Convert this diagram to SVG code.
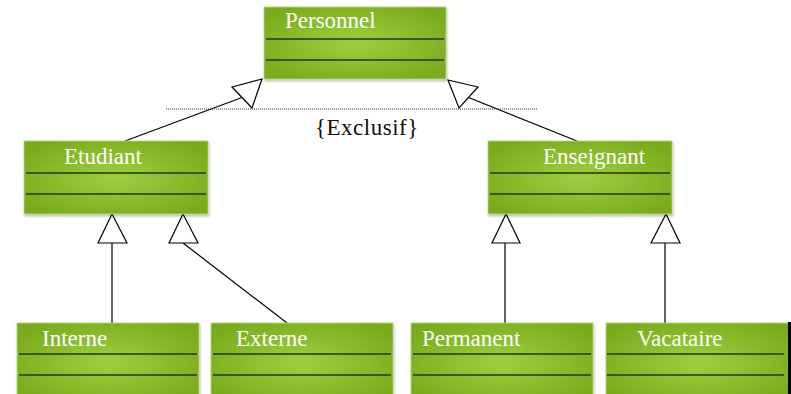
<svg xmlns="http://www.w3.org/2000/svg" width="791" height="394" viewBox="0 0 791 394">
  <defs>
    <radialGradient id="boxFill" cx="50%" cy="50%" r="60%">
      <stop offset="0" stop-color="#9dd040"/>
      <stop offset="1" stop-color="#7aab1c"/>
    </radialGradient>
    <filter id="shadow" x="-10%" y="-10%" width="125%" height="130%">
      <feDropShadow dx="1" dy="2" stdDeviation="1.2" flood-color="#000" flood-opacity="0.25"/>
    </filter>
  </defs>
  <style>
    .box { fill: url(#boxFill); stroke: #b2d67a; stroke-width: 0.8; filter: url(#shadow); }
    .sep { stroke: #24330f; stroke-width: 1.6; }
    .name { font-family: "Liberation Serif", "Times New Roman", serif; font-size: 23px; fill: #ffffff; }
    .note { font-family: "Liberation Serif", "Times New Roman", serif; font-size: 23px; fill: #111111; letter-spacing: 0.5px; }
    .link { stroke: #000; stroke-width: 1.2; fill: none; }
    .head { stroke: #000; stroke-width: 1.2; fill: #fff; }
    .dots { stroke: #333; stroke-width: 1; stroke-dasharray: 1 1; }
  </style>

  <rect x="0" y="0" width="791" height="394" fill="#fff"/>

  <!-- generalisation connectors -->
  <g id="connectors">
    <line class="link" x1="242" y1="97.5" x2="125" y2="141"/>
    <polygon class="head" points="262,79 232,87 252,108"/>
    <line class="link" x1="468.5" y1="97.5" x2="577" y2="141"/>
    <polygon class="head" points="448,80 478,87 459,108"/>
    <line class="dots" x1="166" y1="109" x2="537" y2="109"/>

    <line class="link" x1="112" y1="243" x2="112" y2="323"/>
    <polygon class="head" points="112,214 98,243 127,243"/>
    <line class="link" x1="183" y1="243" x2="287" y2="323"/>
    <polygon class="head" points="183,214 169,243 198,243"/>

    <line class="link" x1="505" y1="243" x2="505" y2="323"/>
    <polygon class="head" points="506,214 492,243 520,243"/>
    <line class="link" x1="665" y1="243" x2="665" y2="323"/>
    <polygon class="head" points="666,214 651,243 680,243"/>
  </g>

  <text class="note" x="315" y="135">{Exclusif}</text>

  <g id="personnel">
    <rect class="box" x="264" y="7" width="182" height="72"/>
    <line class="sep" x1="266" y1="39" x2="444" y2="39"/>
    <line class="sep" x1="266" y1="60" x2="444" y2="60"/>
    <text class="name" x="285" y="28">Personnel</text>
  </g>

  <g id="etudiant">
    <rect class="box" x="24" y="141" width="184" height="73"/>
    <line class="sep" x1="26" y1="173" x2="206" y2="173"/>
    <line class="sep" x1="26" y1="194" x2="206" y2="194"/>
    <text class="name" x="64" y="164">Etudiant</text>
  </g>

  <g id="enseignant">
    <rect class="box" x="488" y="141" width="184" height="73"/>
    <line class="sep" x1="490" y1="173" x2="670" y2="173"/>
    <line class="sep" x1="490" y1="194" x2="670" y2="194"/>
    <text class="name" x="543" y="164">Enseignant</text>
  </g>

  <g id="interne">
    <rect class="box" x="17" y="323" width="182" height="80"/>
    <line class="sep" x1="19" y1="354" x2="197" y2="354"/>
    <line class="sep" x1="19" y1="375" x2="197" y2="375"/>
    <text class="name" x="42" y="346">Interne</text>
  </g>

  <g id="externe">
    <rect class="box" x="211" y="323" width="182" height="80"/>
    <line class="sep" x1="213" y1="354" x2="391" y2="354"/>
    <line class="sep" x1="213" y1="375" x2="391" y2="375"/>
    <text class="name" x="236" y="346">Externe</text>
  </g>

  <g id="permanent">
    <rect class="box" x="411" y="323" width="182" height="80"/>
    <line class="sep" x1="413" y1="354" x2="591" y2="354"/>
    <line class="sep" x1="413" y1="375" x2="591" y2="375"/>
    <text class="name" x="422" y="346">Permanent</text>
  </g>

  <g id="vacataire">
    <rect class="box" x="606" y="323" width="186" height="80"/>
    <line class="sep" x1="607" y1="354" x2="784" y2="354"/>
    <line class="sep" x1="607" y1="375" x2="784" y2="375"/>
    <text class="name" x="637" y="346">Vacataire</text>
  </g>

  <rect x="788" y="322" width="3" height="72" fill="#000"/>
</svg>
